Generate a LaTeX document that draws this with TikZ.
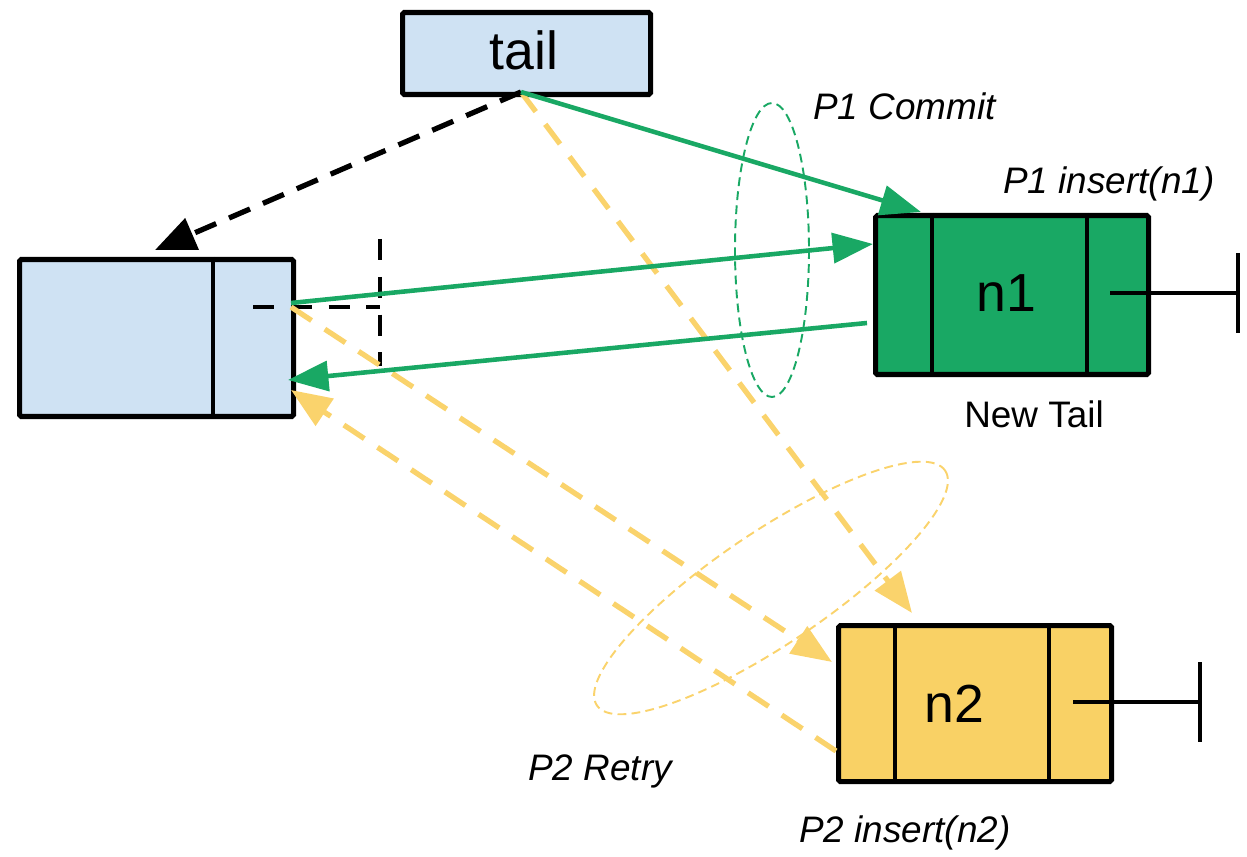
\documentclass[tikz,border=0pt]{standalone}
\usepackage{fontspec}
\setmainfont{Liberation Sans}
\usetikzlibrary{arrows.meta}
\definecolor{lblue}{HTML}{CFE2F3}
\definecolor{dgreen}{HTML}{19A864}
\definecolor{lyellow}{HTML}{F9D165}
\definecolor{yline}{HTML}{FAD36C}
\tikzset{
  boxshape/.style={draw=black, line width=2.9pt, rounded corners=1pt, inner sep=0pt},
  divider/.style={draw=black, line width=2.6pt},
  greenarrow/.style={draw=dgreen, line width=2.6pt, -{Triangle[length=23pt,width=17pt]}},
  yellowarrow/.style={draw=yline, line width=3pt, dash pattern=on 14pt off 9pt, -{Triangle[length=23pt,width=18pt]}},
  blackarrow/.style={draw=black, line width=3pt, dash pattern=on 13pt off 8pt, -{Triangle[length=23pt,width=19pt]}},
  ptrdash/.style={draw=black, line width=2.5pt, dash pattern=on 12pt off 9.5pt},
  term/.style={draw=black, line width=2.5pt},
  lab/.style={font=\fontsize{21}{25}\selectfont\itshape, inner sep=0pt},
  big/.style={font=\fontsize{30.5}{36}\selectfont, inner sep=0pt}
}
\begin{document}
\begin{tikzpicture}[x=0.02cm,y=-0.02cm]
\useasboundingbox (0,0) rectangle (1247,857);
% boxes
\node[boxshape, fill=lblue, minimum width=248*0.02cm, minimum height=82*0.02cm, anchor=north west] (tail) at (400,10) {};
\node[big] (tailtxt) at (524,50) {tail};
\node[boxshape, fill=lblue, minimum width=274*0.02cm, minimum height=157*0.02cm, anchor=north west] (L) at (17,257) {};
\draw[divider] (213,257) -- (213,414);
\node[boxshape, fill=dgreen, minimum width=273*0.02cm, minimum height=159*0.02cm, anchor=north west] (n1) at (873,213) {};
\draw[divider] (932,213) -- (932,374);
\draw[divider] (1087,213) -- (1087,372);
\node[big] (n1txt) at (1006,293) {n1};
\node[boxshape, fill=lyellow, minimum width=273*0.02cm, minimum height=156*0.02cm, anchor=north west] (n2) at (836,623) {};
\draw[divider] (895,623) -- (895,779);
\draw[divider] (1049,623) -- (1049,779);
\node[big] (n2txt) at (954,704) {n2};
% terminators
\coordinate (t1a) at (1110,293);
\coordinate (t1b) at (1238,293);
\draw[term] (t1a) -- (t1b);
\draw[term] (1238,253) -- (1238,333);
\coordinate (t2a) at (1073,702);
\coordinate (t2b) at (1200,702);
\draw[term] (t2a) -- (t2b);
\draw[term] (1200,662) -- (1200,742);
% left pointer
\coordinate (lp0) at (253,307);
\coordinate (lp1) at (380,307);
\draw[ptrdash] (lp0) -- (lp1);
\draw[ptrdash] (380,239) -- (380,366);
% coordinates
\coordinate (tb) at (521,92);
\coordinate (lt) at (155,250);
\coordinate (n1tl) at (921,212);
\coordinate (lp) at (291,303);
\coordinate (n1l) at (873,244);
\coordinate (n1l2) at (867,323);
\coordinate (lr) at (288,380);
\coordinate (n2t) at (912,613);
\coordinate (lp2) at (291,307);
\coordinate (n2l) at (832,662);
\coordinate (n2l2) at (836,751);
\coordinate (lr2) at (291,390);
% ellipses
\draw[dgreen, line width=1.1pt, dash pattern=on 5pt off 3pt] (772,250) ellipse [x radius=37, y radius=147];
\draw[yline, line width=1.1pt, dash pattern=on 5pt off 3pt, shift={(771,588)}, rotate=34] (0,0) ellipse [x radius=210, y radius=56];
% connectors
\draw[yellowarrow] (tb) -- (n2t);
\draw[yellowarrow] (lp2) -- (n2l);
\draw[yellowarrow] (n2l2) -- (lr2);
\draw[blackarrow] (tb) -- (lt);
\draw[greenarrow] (tb) -- (n1tl);
\draw[greenarrow] (lp) -- (n1l);
\draw[greenarrow] (n1l2) -- (lr);
% labels
\node[lab, anchor=west] (p1c) at (813,106) {P1 Commit};
\node[lab, anchor=west] (p1i) at (1003,184) {P1 insert(n1)};
\node[font=\fontsize{21}{25}\selectfont, inner sep=0pt] (nt) at (1034,414) {New Tail};
\node[lab, anchor=west] (p2r) at (528,771) {P2 Retry};
\node[lab, anchor=west] (p2i) at (799,833) {P2 insert(n2)};
\end{tikzpicture}
\end{document}
